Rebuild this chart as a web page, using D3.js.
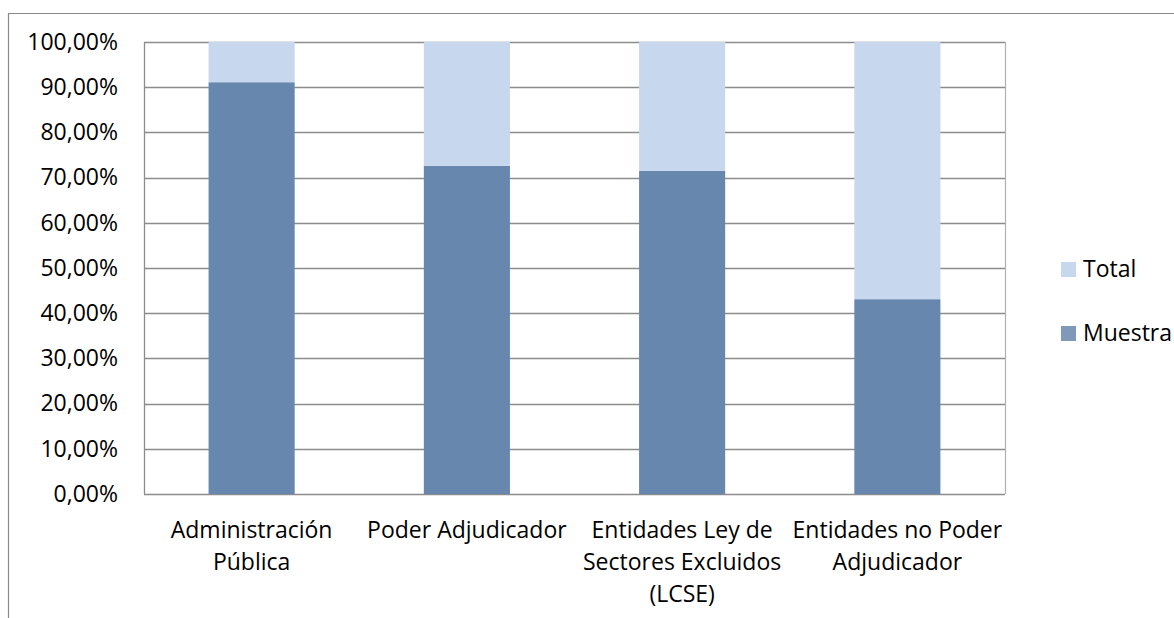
<!DOCTYPE html>
<html>
<head>
<meta charset="utf-8">
<script src="https://cdn.jsdelivr.net/npm/d3@7"></script>
<style>
  html, body { margin: 0; padding: 0; background: #fff; }
  svg { display: block; }
</style>
</head>
<body>
<div id="chart"></div>
<script>
// categories, one entry per bar ("\n" marks the line break used in the original)
const categories = [
  "Administración\nPública",
  "Poder Adjudicador",
  "Entidades Ley de\nSectores Excluidos\n(LCSE)",
  "Entidades no Poder\nAdjudicador"
];
const seriesNames = ["Muestra", "Total"];
const muestra = [91.1, 72.6, 71.5, 43.1];
const total = [8.9, 27.4, 28.5, 56.9];
const yTicks = [0, 10, 20, 30, 40, 50, 60, 70, 80, 90, 100];

const width = 1174;
const height = 618;
const margin = { top: 42, right: 169, bottom: 124, left: 144 };
const innerWidth = width - margin.left - margin.right;
const innerHeight = height - margin.top - margin.bottom;
const fontFamily = "'Open Sans', sans-serif";
const fontSize = "23px";
const gridColor = "#8c8c8c";

const color = d3.scaleOrdinal()
  .domain(seriesNames)
  .range(["#6787af", "#c6d7ee"]);

const data = categories.map((c, i) => ({ cat: c, Muestra: muestra[i], Total: total[i] }));

const svg = d3.select("#chart").append("svg")
  .attr("width", width)
  .attr("height", height);

// outer chart frame (only top and left edges are inside the picture)
svg.append("path")
  .attr("d", `M8.5,${height}V13.5H${width}`)
  .attr("fill", "none")
  .attr("stroke", "#8a8a8a")
  .attr("stroke-width", 1.2);

const g = svg.append("g")
  .attr("transform", `translate(${margin.left},${margin.top})`);

const x = d3.scaleBand()
  .domain(categories)
  .range([0, innerWidth])
  .paddingInner(0.6)
  .paddingOuter(0.3);

const y = d3.scaleLinear()
  .domain([0, 100])
  .range([innerHeight, 0]);

// gridlines
g.append("g")
  .selectAll("line")
  .data(yTicks)
  .join("line")
  .attr("x1", 0)
  .attr("x2", innerWidth)
  .attr("y1", d => Math.round(y(d)) + 0.5)
  .attr("y2", d => Math.round(y(d)) + 0.5)
  .attr("stroke", gridColor)
  .attr("stroke-width", 1.3);

// right border of plot
g.append("line")
  .attr("x1", innerWidth + 0.5)
  .attr("x2", innerWidth + 0.5)
  .attr("y1", 0)
  .attr("y2", innerHeight)
  .attr("stroke", "#b0b0b0")
  .attr("stroke-width", 1.2);

// stacked bars
const stacked = d3.stack().keys(seriesNames)(data);

g.append("g")
  .selectAll("g")
  .data(stacked)
  .join("g")
  .attr("fill", d => color(d.key))
  .selectAll("rect")
  .data(d => d)
  .join("rect")
  .attr("x", d => x(d.data.cat))
  .attr("width", x.bandwidth())
  .attr("y", d => y(d[1]))
  .attr("height", d => y(d[0]) - y(d[1]));

// y axis
const yAxis = g.append("g")
  .call(d3.axisLeft(y)
    .tickValues(yTicks)
    .tickSize(0)
    .tickPadding(26)
    .tickFormat(d => d3.format(".2f")(d).replace(".", ",") + "%"));

yAxis.select(".domain")
  .attr("stroke", gridColor)
  .attr("stroke-width", 1.3)
  .attr("d", `M0.5,${innerHeight}V0`);

yAxis.selectAll("text")
  .style("font-family", fontFamily)
  .style("font-size", fontSize)
  .style("fill", "#000");

// x axis labels
const xLabels = g.append("g")
  .attr("transform", `translate(0,${innerHeight})`)
  .selectAll("text")
  .data(categories)
  .join("text")
  .attr("x", d => x(d) + x.bandwidth() / 2)
  .attr("y", 44)
  .attr("text-anchor", "middle")
  .style("font-family", fontFamily)
  .style("font-size", fontSize)
  .style("fill", "#000");

xLabels.each(function(d) {
  const t = d3.select(this);
  d.split("\n").forEach((line, i) => {
    t.append("tspan")
      .attr("x", x(d) + x.bandwidth() / 2)
      .attr("dy", i === 0 ? 0 : 32)
      .text(line);
  });
});

// legend
const legend = svg.append("g")
  .attr("transform", "translate(1061, 262)")
  .style("font-family", fontFamily)
  .style("font-size", fontSize);

const legendItems = ["Total", "Muestra"];
legendItems.forEach((name, i) => {
  const gL = legend.append("g")
    .attr("transform", `translate(0, ${i * 64})`);
  gL.append("rect")
    .attr("width", 15)
    .attr("height", 15)
    .attr("fill", name === "Muestra" ? "#8099b9" : color(name));
  gL.append("text")
    .attr("x", 22)
    .attr("y", 15)
    .text(name)
    .style("fill", "#000");
});
</script>
</body>
</html>
